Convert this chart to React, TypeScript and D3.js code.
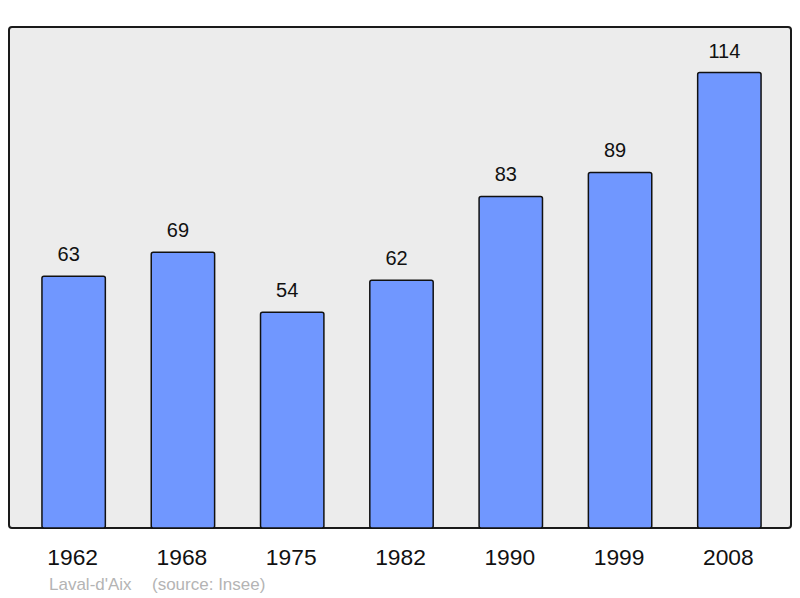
import React from 'react';
import * as d3 from 'd3';

const years = ['1962', '1968', '1975', '1982', '1990', '1999', '2008'];
const population = [63, 69, 54, 62, 83, 89, 114];
const placeName = "Laval-d'Aix";
const sourceText = '(source: Insee)';

const W = 800;
const H = 598;
const frame = { left: 9, top: 27, right: 791, bottom: 528 };

const App = () => {
  const xScale = d3
    .scaleBand<string>()
    .domain(years)
    .range([19, 784])
    .paddingInner(0.42)
    .paddingOuter(0.21);

  const yScale = d3
    .scaleLinear()
    .domain([0, (d3.max(population) as number) * 1.1])
    .range([frame.bottom, frame.top]);

  const font = '"Liberation Sans", Arial, sans-serif';
  const bw = xScale.bandwidth();

  return (
    <svg
      width={W}
      height={H}
      style={{ position: 'absolute', left: 0, top: 0 }}
      fontFamily={font}
    >
      <rect
        x={frame.left}
        y={frame.top}
        width={frame.right - frame.left}
        height={frame.bottom - frame.top}
        rx={3}
        fill="#ececec"
        stroke="#1a1a1a"
        strokeWidth={2}
      />
      {years.map((yr, i) => {
        const x = xScale(yr) as number;
        const y = yScale(population[i]);
        return (
          <g key={yr}>
            <rect
              x={x}
              y={y}
              width={bw}
              height={frame.bottom - y}
              rx={2}
              fill="#7097ff"
              stroke="#111"
              strokeWidth={1.5}
            />
            {/* value labels sit a little left of the bar centre */}
            <text
              x={x + bw / 2 - 5}
              y={y - 15}
              textAnchor="middle"
              fontSize={20}
              fill="#111"
            >
              {population[i]}
            </text>
            <text
              x={x + bw / 2 - 1}
              y={565}
              textAnchor="middle"
              fontSize={22.8}
              fill="#111"
            >
              {yr}
            </text>
          </g>
        );
      })}
      <text x={49} y={590} fontSize={17} fill="#b4b4b4">
        {placeName}
      </text>
      <text x={152} y={590} fontSize={17} fill="#b4b4b4">
        {sourceText}
      </text>
    </svg>
  );
};

export default App;
